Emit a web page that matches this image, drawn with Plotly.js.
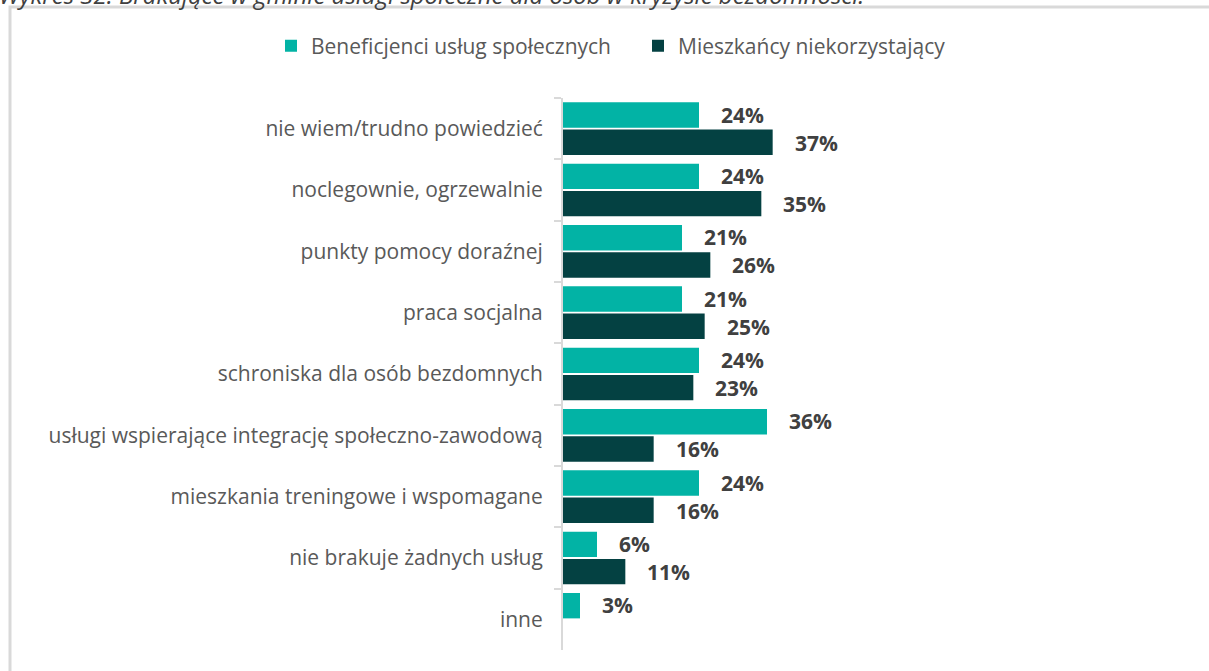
<!DOCTYPE html>
<html><head><meta charset="utf-8">
<script src="https://cdn.plot.ly/plotly-3.0.1.min.js"></script>
<style>html,body{margin:0;padding:0;background:#fff;}#chart{width:1209px;height:671px;}</style>
</head><body><div id="chart"></div>
<script>
const categories = [
  "nie wiem/trudno powiedzieć",
  "noclegownie, ogrzewalnie",
  "punkty pomocy doraźnej",
  "praca socjalna",
  "schroniska dla osób bezdomnych",
  "usługi wspierające integrację społeczno-zawodową",
  "mieszkania treningowe i wspomagane",
  "nie brakuje żadnych usług",
  "inne"
];
const beneficjenci = [24, 24, 21, 21, 24, 36, 24, 6, 3];
const mieszkancy = [37, 35, 26, 25, 23, 16, 16, 11, null];
const seriesNames = ["Beneficjenci usług społecznych", "Mieszkańcy niekorzystający"];
const chartTitle = "Wykres 32. Brakujące w gminie usługi społeczne dla osób w kryzysie bezdomności.";

const C1 = "#02B3A5", C2 = "#044142";
const FONT = "'Open Sans', sans-serif";
const FS = 21;
const W = 1209, H = 671;
const m = {l: 563, r: 391, t: 98, b: 21, autoexpand: false};
const pw = W - m.l - m.r, ph = H - m.t - m.b;
const px2x = p => (p - m.l) / pw;
const px2y = p => (H - m.b - p) / ph;

const traces = [
  {type: "bar", orientation: "h", name: seriesNames[0], y: categories, x: beneficjenci,
   marker: {color: C1}, hoverinfo: "x+y"},
  {type: "bar", orientation: "h", name: seriesNames[1], y: categories, x: mieszkancy,
   marker: {color: C2}, hoverinfo: "x+y"}
];

const annotations = [];
[[beneficjenci, 14], [mieszkancy, -14]].forEach(([vals, ys]) => {
  vals.forEach((v, i) => {
    if (v === null || v === undefined) return;
    annotations.push({xref: "x", yref: "y", x: v, y: categories[i], text: "<b>" + v + "%</b>",
      showarrow: false, xanchor: "left", yanchor: "middle", xshift: 20, yshift: ys,
      font: {family: FONT, size: FS, color: "#404040"}});
  });
});
annotations.push({xref: "paper", yref: "paper", x: px2x(-3), y: px2y(-6),
  xanchor: "left", yanchor: "middle", showarrow: false,
  text: "<i>" + chartTitle + "</i>", font: {family: FONT, size: 24, color: "#404040"}});

const shapes = [{type: "rect", xref: "paper", yref: "paper",
  x0: px2x(10), x1: px2x(W + 20), y0: px2y(H + 20), y1: px2y(7),
  line: {color: "#D9D9D9", width: 3}, fillcolor: "rgba(0,0,0,0)", layer: "below"}];

const layout = {
  width: W, height: H,
  margin: m,
  paper_bgcolor: "#fff", plot_bgcolor: "rgba(0,0,0,0)",
  font: {family: FONT, size: FS, color: "#595959"},
  barmode: "group", bargap: 0.11, bargroupgap: 0.07,
  showlegend: true,
  legend: {orientation: "h", x: px2x(271), xref: "paper", xanchor: "left",
    y: px2y(46), yref: "paper", yanchor: "middle", bgcolor: "rgba(0,0,0,0)",
    entrywidth: 322, entrywidthmode: "pixels",
    font: {family: FONT, size: FS, color: "#595959"}, traceorder: "normal"},
  xaxis: {range: [0, 45], showgrid: false, zeroline: false, showticklabels: false, showline: false, fixedrange: true},
  yaxis: {autorange: "reversed", showgrid: false, zeroline: false, showline: true, linecolor: "#D9D9D9", linewidth: 2,
    ticks: "outside", ticklen: 7, tickcolor: "#D9D9D9", tickwidth: 2, tickson: "boundaries",
    ticklabelstandoff: 14, tickfont: {family: FONT, size: FS, color: "#595959"}},
  annotations: annotations,
  shapes: shapes
};
Plotly.newPlot("chart", traces, layout, {displayModeBar: false, staticPlot: true});
</script></body></html>
